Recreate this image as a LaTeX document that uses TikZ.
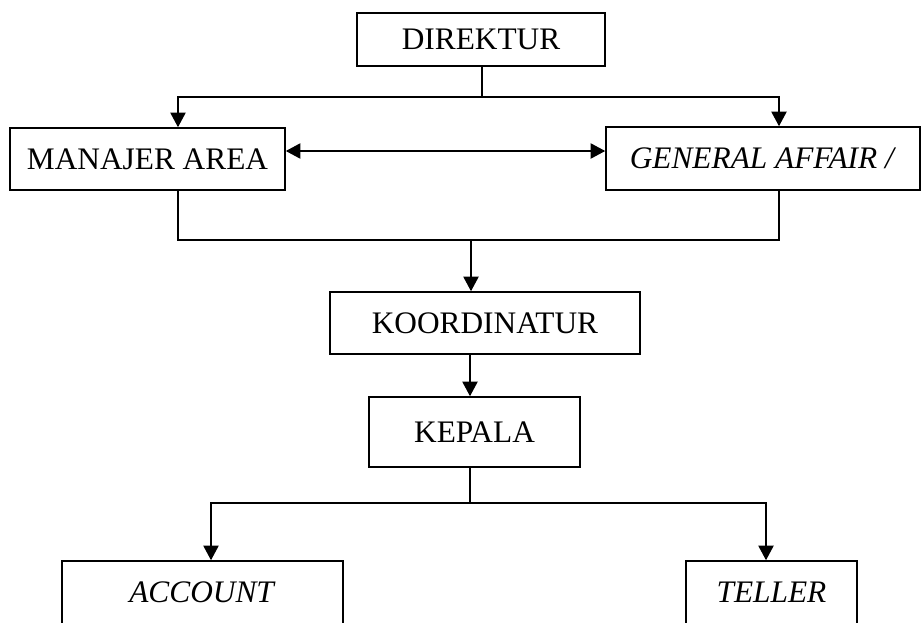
\documentclass[tikz,border=0pt]{standalone}
\usepackage{fontspec}
\setmainfont{Liberation Serif}
\usetikzlibrary{arrows.meta}

\begin{document}
\begin{tikzpicture}[x=0.75pt,y=-0.75pt]

\tikzset{
  BoxStyle/.style = { rectangle, draw, line width=1.2pt, inner sep=0pt,
                      font = \fontsize{23.5}{28}\selectfont },
  OpenBoxStyle/.style = { BoxStyle, anchor=base, minimum height=0pt,
                          text height=30.75pt, text depth=30pt },
  LinkStyle/.style = { line width=1.1pt },
  ArrowStyle/.style = { LinkStyle, -{Triangle[length=11pt,width=11.5pt]} } }

  \useasboundingbox (0,0) rectangle (921,622);

  \node[BoxStyle, minimum width=186pt, minimum height=39.75pt] (direktur) at (481, 39.5) {DIREKTUR};
  \node[BoxStyle, minimum width=206.25pt, minimum height=46.5pt] (manajer) at (147.5, 159) {MANAJER AREA};
  \node[BoxStyle, minimum width=235.5pt, minimum height=47.25pt] (general) at (763, 158.5) {\textit{GENERAL AFFAIR /}};
  \node[BoxStyle, minimum width=232.5pt, minimum height=46.5pt] (koordinatur) at (485, 323) {KOORDINATUR};
  \node[BoxStyle, minimum width=158.25pt, minimum height=52.5pt] (kepala) at (474.5, 432) {KEPALA};
  % bottom boxes run past the lower edge
  \node[OpenBoxStyle, minimum width=210.75pt] (account) at (202.5, 602) {\textit{ACCOUNT}};
  \node[OpenBoxStyle, minimum width=128.25pt] (teller) at (771.5, 602) {\textit{TELLER}};

  \coordinate (top) at (482, 97);
  \coordinate (mid) at (471, 240);
  \coordinate (low) at (470, 503);

  \draw[LinkStyle] (direktur.south -| top) -- (top);
  \draw[ArrowStyle] (top) -| (178,0 |- manajer.north);
  \draw[ArrowStyle] (top) -| (779,0 |- general.north);

  \draw[LinkStyle, {Triangle[length=11pt,width=11.5pt]}-{Triangle[length=11pt,width=11.5pt]}]
    (manajer.east |- 0,151) -- (general.west |- 0,151);

  \draw[LinkStyle] (178,0 |- manajer.south) |- (mid) -| (779,0 |- general.south);
  \draw[ArrowStyle] (mid) -- (mid |- koordinatur.north);

  \draw[ArrowStyle] (koordinatur.south -| low) -- (kepala.north -| low);

  \draw[LinkStyle] (kepala.south -| low) -- (low);
  \draw[ArrowStyle] (low) -| (211,0 |- account.north);
  \draw[ArrowStyle] (low) -| (766,0 |- teller.north);

\end{tikzpicture}
\end{document}
